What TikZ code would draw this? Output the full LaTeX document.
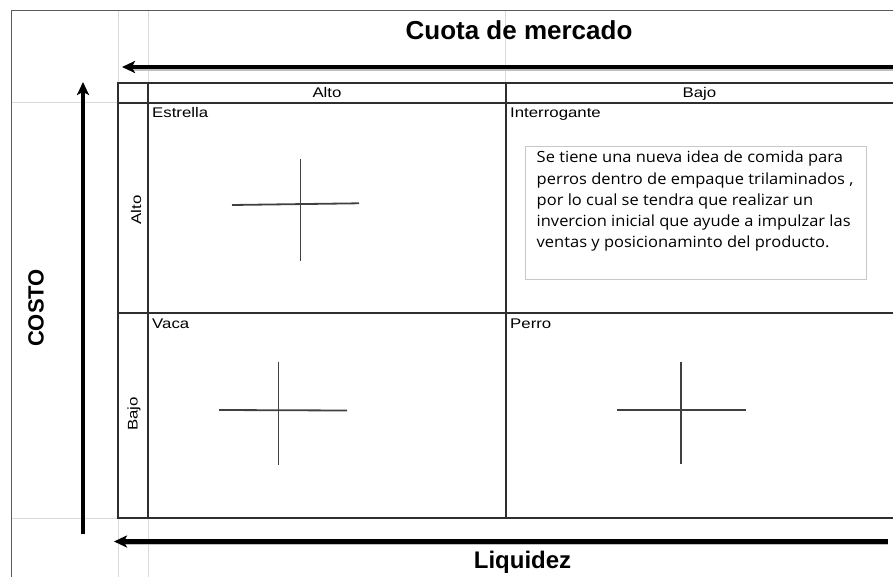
\documentclass[tikz,border=0pt]{standalone}
\usepackage{fontspec}
\setmainfont{Liberation Sans}
\newfontfamily\widefont[FakeStretch=1.2]{Liberation Sans}
\newfontfamily\boxfont[FakeStretch=1.07]{Open Sans}
\usetikzlibrary{arrows.meta}
\definecolor{gridc}{HTML}{D9D9D9}
\definecolor{framec}{HTML}{5A5A5A}
\definecolor{tablec}{HTML}{2E2E2E}
\definecolor{crossc}{HTML}{404040}
\definecolor{boxc}{HTML}{C8C8C8}
\tikzset{
  gridline/.style={draw=gridc, line width=1pt},
  frameline/.style={draw=framec, line width=1pt},
  tableline/.style={draw=tablec, line width=1.5pt},
  crossline/.style={draw=crossc, line width=1.8pt},
  bigarrow/.style={draw=black, line width=4.2pt, -{Stealth[length=13pt,width=12pt,inset=3pt]}},
  arrowshadow/.style={draw=black!25, line width=4pt},
  axislabel/.style={font=\fontsize{24}{28}\selectfont\bfseries, inner sep=0pt},
  smalllabel/.style={font=\widefont\fontsize{14}{16}\selectfont, inner sep=0pt},
}
\begin{document}
\begin{tikzpicture}[x=1pt, y=-1pt]
\useasboundingbox (0,0) rectangle (893,577);
\fill[white] (0,0) rectangle (893,577);
% light sheet grid lines
\draw[gridline] (118,11) -- (118,83);
\draw[gridline] (148,11) -- (148,83);
\draw[gridline] (505,11) -- (505,83);
\draw[gridline] (118,518) -- (118,577);
\draw[gridline] (148,518) -- (148,577);
\draw[gridline] (11,103) -- (118,103);
\draw[gridline] (11,518) -- (118,518);
% outer frame
\draw[frameline] (11,577) -- (11,11) -- (893,11);
% table
\draw[tableline] (893,83) -- (118,83) -- (118,518) -- (893,518);
\draw[tableline] (118,103) -- (893,103);
\draw[tableline] (118,313) -- (893,313);
\draw[tableline] (148,83) -- (148,518);
\draw[tableline] (506,83) -- (506,518);
% arrows
\coordinate (topR) at (893,67);
\coordinate (topL) at (122,67);
\coordinate (botR) at (888,541.5);
\coordinate (botL) at (114,541.5);
\coordinate (vB) at (83,534);
\coordinate (vT) at (83,82);
\draw[arrowshadow] ([shift={(0,1.8)}]topR) -- ([shift={(12,1.8)}]topL);
\draw[arrowshadow] ([shift={(0,1.8)}]botR) -- ([shift={(12,1.8)}]botL);
\draw[bigarrow] (topR) -- (topL);
\draw[bigarrow] (botR) -- (botL);
\draw[bigarrow] (vB) -- (vT);
% axis labels
\node[axislabel, anchor=base] (cuota) at (519,40) {\fontsize{26}{28}\selectfont Cuota de mercado};
\node[axislabel, anchor=base] (liq) at (522.5,568) {Liquidez};
\node[axislabel, rotate=90] (costo) at (36,308) {\fontsize{22}{26}\selectfont COSTO};
% headers
\node[smalllabel, anchor=base] (hAlto) at (327,98) {Alto};
\node[smalllabel, anchor=base] (hBajo) at (699.5,98) {Bajo};
\node[smalllabel, rotate=90] (rAlto) at (136,210) {Alto};
\node[smalllabel, rotate=90] (rBajo) at (134,414) {Bajo};
% quadrant names
\node[smalllabel, anchor=base west] (estrella) at (152,118) {Estrella};
\node[smalllabel, anchor=base west] (interrog) at (510,118) {Interrogante};
\node[smalllabel, anchor=base west] (vaca) at (152,328) {Vaca};
\node[smalllabel, anchor=base west] (perro) at (510,328) {Perro};
% crosses
\draw[crossline] (300.5,159) -- (300.5,261);
\draw[crossline] (232,205) -- (359,203.3);
\draw[crossline] (278.5,362) -- (278.5,465);
\draw[crossline] (219,410) -- (347,410.5);
\draw[crossline] (681,361.5) -- (681,464);
\draw[crossline] (617,410) -- (746,410);
% text box
\node[draw=boxc, line width=1.2pt, minimum width=341pt, minimum height=133pt, anchor=north west, inner sep=0pt] (box) at (525,146) {};
\node[anchor=north west, inner sep=0pt, align=left,
      font=\boxfont\fontsize{15.4}{21.25}\selectfont] (boxtext) at (536.5,151)
  {Se tiene una nueva idea de comida para\\
   perros dentro de empaque trilaminados ,\\
   por lo cual se tendra que realizar un\\
   invercion inicial que ayude a impulzar las\\
   ventas y posicionaminto del producto.};
\end{tikzpicture}
\end{document}
